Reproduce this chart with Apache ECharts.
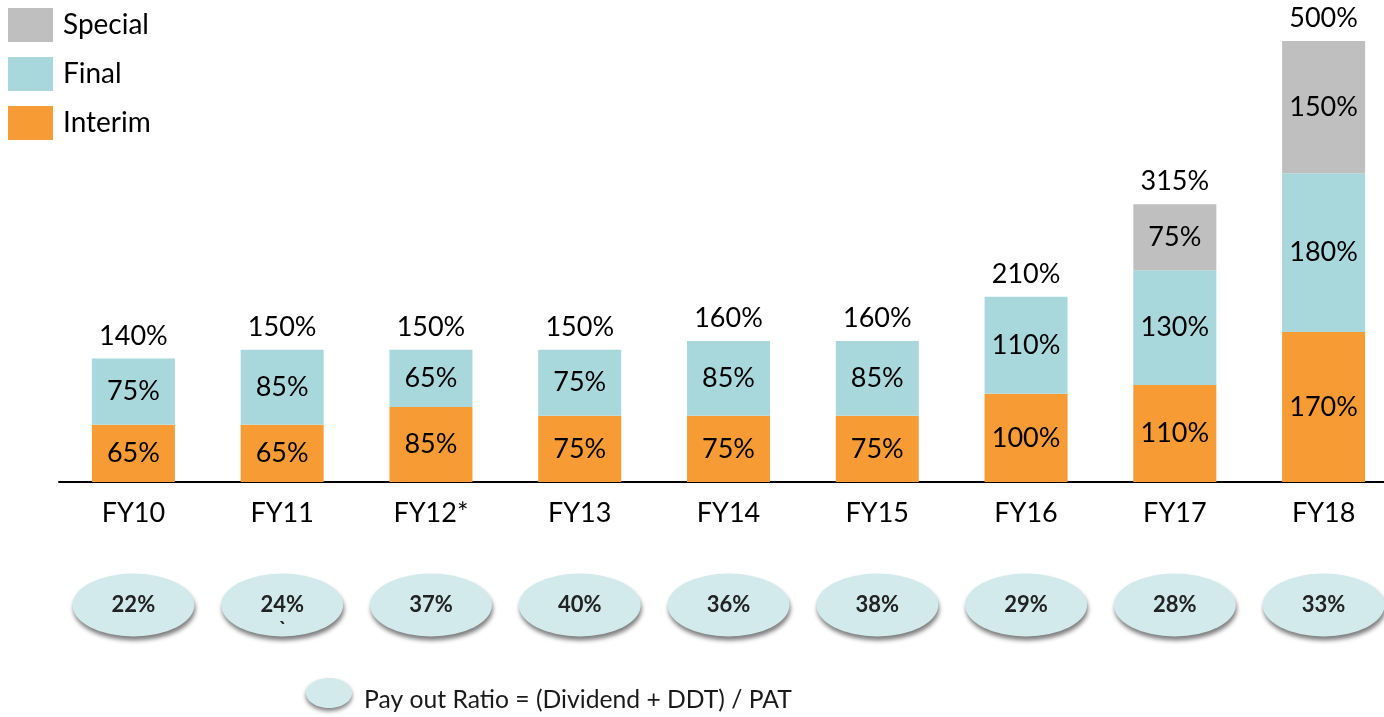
<!DOCTYPE html>
<html>
<head>
<meta charset="utf-8">
<script src="https://cdn.jsdelivr.net/npm/echarts@6/dist/echarts.min.js"></script>
<style>
html,body{margin:0;padding:0;background:#fff;}
#chart{width:1384px;height:717px;}
</style>
</head>
<body>
<div id="chart"></div>
<script>
const categories = ['FY10','FY11','FY12*','FY13','FY14','FY15','FY16','FY17','FY18'];
const interim = [65,65,85,75,75,75,100,110,170];
const finalDiv = [75,85,65,75,85,85,110,130,180];
const special = [null,null,null,null,null,null,null,75,150];
const totals = [140,150,150,150,160,160,210,315,500];
const payout = [22,24,37,40,36,38,29,28,33];
const footnote = 'Pay out Ratio = (Dividend + DDT) / PAT';

const FONT = 'Lato';
const segLabel = {
  show: true, position: 'inside', color: '#000', fontFamily: FONT, fontSize: 27,
  textBorderWidth: 0,
  formatter: p => p.value == null ? '' : p.value + '%'
};

const chart = echarts.init(document.getElementById('chart'));
chart.setOption({
  animation: false,
  backgroundColor: '#fff',
  legend: {
    orient: 'vertical', left: 8, top: 8, padding: 0,
    data: ['Special','Final','Interim'],
    icon: 'rect', itemWidth: 45, itemHeight: 34, itemGap: 15,
    textStyle: { fontFamily: FONT, fontSize: 28, color: '#000', padding: [0,0,0,5] },
    selectedMode: false
  },
  grid: [
    { left: 59, width: 1339, top: 41, height: 441, outerBoundsMode: 'none' },
    { left: 59, width: 1339, top: 573, height: 64, outerBoundsMode: 'none' }
  ],
  xAxis: [
    {
      type: 'category', gridIndex: 0, data: categories,
      axisLine: { lineStyle: { color: '#000', width: 2 } },
      axisTick: { show: false },
      axisLabel: { color: '#000', fontFamily: FONT, fontSize: 27, margin: 18 }
    },
    { type: 'category', gridIndex: 1, data: categories, show: false }
  ],
  yAxis: [
    { type: 'value', gridIndex: 0, min: 0, max: 500, show: false, splitLine: { show: false } },
    { type: 'value', gridIndex: 1, min: -1, max: 1, show: false, splitLine: { show: false } }
  ],
  series: [
    { name: 'Interim', type: 'bar', stack: 'div', barWidth: 83, data: interim,
      itemStyle: { color: '#F79B34' }, label: segLabel },
    { name: 'Final', type: 'bar', stack: 'div', barWidth: 83, data: finalDiv,
      itemStyle: { color: '#A8D8DC' }, label: segLabel },
    { name: 'Special', type: 'bar', stack: 'div', barWidth: 83, data: special,
      itemStyle: { color: '#BFBFBF' }, label: segLabel },
    { name: 'Total', type: 'scatter', symbolSize: 0, data: totals, silent: true,
      itemStyle: { opacity: 1 },
      label: { show: true, position: 'top', distance: 9, color: '#000', fontFamily: FONT, fontSize: 27,
        textBorderWidth: 0, formatter: p => p.value + '%' } },
    { name: 'Payout', type: 'scatter', xAxisIndex: 1, yAxisIndex: 1,
      symbol: 'circle', symbolSize: [122, 63],
      data: payout.map((v, i) => [i, 0]),
      itemStyle: { opacity: 1, color: '#D3EAED', shadowColor: 'rgba(0,0,0,0.5)', shadowBlur: 4, shadowOffsetX: 1, shadowOffsetY: 4 },
      label: { show: true, position: 'inside', color: '#222', fontFamily: FONT, fontWeight: 'bold', fontSize: 22,
        textBorderWidth: 0, formatter: p => payout[p.dataIndex] + '%' } }
  ],
  graphic: [
    { type: 'ellipse', shape: { cx: 329, cy: 693, rx: 23, ry: 15 },
      style: { fill: '#D3EAED', shadowColor: 'rgba(0,0,0,0.5)', shadowBlur: 4, shadowOffsetY: 3 } },
    { type: 'text', left: 364, top: 688,
      style: { text: footnote, fontFamily: FONT, fontSize: 24.7, fill: '#1a1a1a' } },
    { type: 'text', left: 279, top: 620, z: 100,
      style: { text: '`', fontFamily: FONT, fontSize: 20, fontWeight: 'bold', fill: '#222' } }
  ]
});
</script>
</body>
</html>
